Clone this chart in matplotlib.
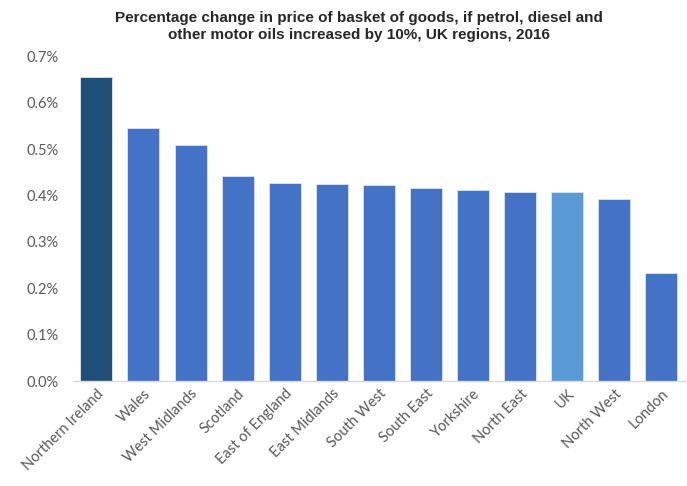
import matplotlib
matplotlib.use("Agg")
import matplotlib.pyplot as plt
from matplotlib.ticker import FuncFormatter

regions = ["Northern Ireland", "Wales", "West Midlands", "Scotland", "East of England",
           "East Midlands", "South West", "South East", "Yorkshire", "North East",
           "UK", "North West", "London"]
change_pct = [0.656, 0.546, 0.509, 0.442, 0.428, 0.425, 0.423, 0.417, 0.411, 0.408,
              0.408, 0.392, 0.233]
bar_colors = ["#1F4E79"] + ["#4472C4"] * 9 + ["#5B9BD5"] + ["#4472C4"] * 2

fig = plt.figure(figsize=(6.87, 4.86), dpi=100)
ax = fig.add_axes([0.106, 0.216, 0.891, 0.668])

x = range(len(regions))
ax.bar(x, change_pct, width=0.68, color=bar_colors, edgecolor="#DCE6F4", linewidth=0.6, zorder=2)

ax.set_xlim(-0.5, len(regions) - 0.5)
ax.set_ylim(0, 0.7)
ax.set_yticks([i / 10 for i in range(8)])
ax.yaxis.set_major_formatter(FuncFormatter(lambda v, _: f"{v:.1f}%"))

for side in ["top", "right", "left"]:
    ax.spines[side].set_visible(False)
ax.spines["bottom"].set_color("#D9D9D9")
ax.spines["bottom"].set_linewidth(1.0)

ax.tick_params(axis="y", length=0, pad=10, labelsize=10.5, labelcolor="#595959")
ax.tick_params(axis="x", length=0, pad=4)
ax.set_xticks(list(x))
ax.set_xticklabels(regions, rotation=45, ha="right", rotation_mode="anchor",
                   fontsize=10.5, color="#595959")
for lbl in ax.get_xticklabels() + ax.get_yticklabels():
    lbl.set_family("Lato")

fig.text(0.523, 0.978,
         "Percentage change in price of basket of goods, if petrol, diesel and\n"
         "other motor oils increased by 10%, UK regions, 2016",
         ha="center", va="top", fontsize=11, fontweight="bold", color="#262626",
         family="Liberation Sans", linespacing=1.3)

fig.savefig("out.png", dpi=100)
